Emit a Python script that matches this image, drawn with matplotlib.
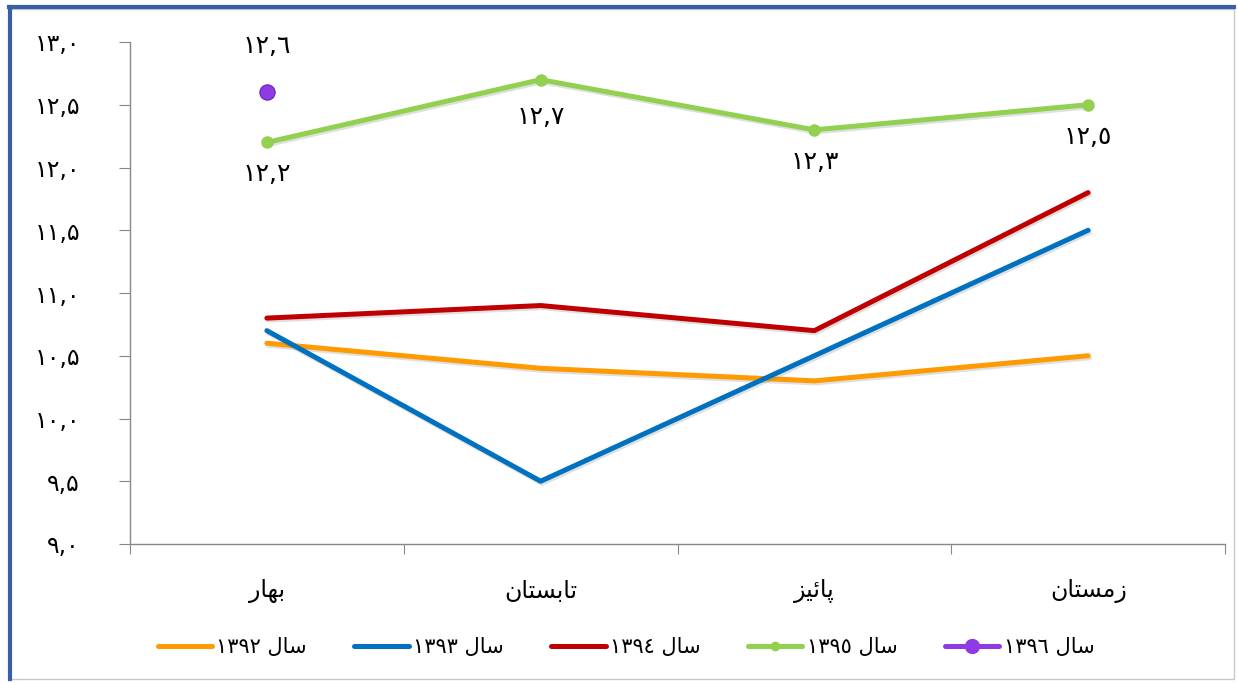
import matplotlib
matplotlib.use("Agg")
import matplotlib.pyplot as plt
import matplotlib.patheffects as pe
from matplotlib.patches import Rectangle
from matplotlib.lines import Line2D

# ---------------- data ----------------
seasons = ["بهار", "تابستان", "پائیز", "زمستان"]
years = ["1392", "1393", "1394", "1395", "1396"]
s1392 = [10.6, 10.4, 10.3, 10.5]
s1393 = [10.7, 9.5, 10.5, 11.5]
s1394 = [10.8, 10.9, 10.7, 11.8]
s1395 = [12.2, 12.7, 12.3, 12.5]
s1396 = [12.6]
y_ticks = [9.0, 9.5, 10.0, 10.5, 11.0, 11.5, 12.0, 12.5, 13.0]

colors = ["#FF9A00", "#0070C0", "#C00000", "#92D050", "#8E3BE6"]

# ------------- minimal Arabic shaping -------------
FORMS = {  # iso, fin, ini, med (None -> right-joining only)
    "ا": ("\uFE8D", "\uFE8E", None, None),
    "ب": ("\uFE8F", "\uFE90", "\uFE91", "\uFE92"),
    "ت": ("\uFE95", "\uFE96", "\uFE97", "\uFE98"),
    "ر": ("\uFEAD", "\uFEAE", None, None),
    "ز": ("\uFEAF", "\uFEB0", None, None),
    "س": ("\uFEB1", "\uFEB2", "\uFEB3", "\uFEB4"),
    "ل": ("\uFEDD", "\uFEDE", "\uFEDF", "\uFEE0"),
    "م": ("\uFEE1", "\uFEE2", "\uFEE3", "\uFEE4"),
    "ن": ("\uFEE5", "\uFEE6", "\uFEE7", "\uFEE8"),
    "ه": ("\uFEE9", "\uFEEA", "\uFEEB", "\uFEEC"),
    "ئ": ("\uFE89", "\uFE8A", "\uFE8B", "\uFE8C"),
    "ی": ("\uFEEF", "\uFEF0", "\uFEF3", "\uFEF4"),
    "پ": ("\uFB56", "\uFB57", "\uFB58", "\uFB59"),
}


def dual(c):
    return c in FORMS and FORMS[c][2] is not None


def shape_word(w):
    out = []
    for i, c in enumerate(w):
        if c not in FORMS:
            out.append(c)
            continue
        prev_j = i > 0 and dual(w[i - 1])
        next_j = dual(c) and i + 1 < len(w) and w[i + 1] in FORMS
        iso, fin, ini, med = FORMS[c]
        if prev_j and next_j:
            out.append(med)
        elif prev_j:
            out.append(fin)
        elif next_j:
            out.append(ini)
        else:
            out.append(iso)
    return "".join(out)[::-1]


FA = str.maketrans("0123456789.", "۰۱۲۳۴۵۶۷۸۹,")
AR = str.maketrans("0123456789.", "٠١٢٣٤٥٦٧٨٩,")


def fa_num(v):
    return f"{v:.1f}".translate(FA)


def ar_num(v):
    return f"{v:.1f}".translate(AR)


def legend_label(y):
    return y.translate(AR) + " " + shape_word("سال")


plt.rcParams["font.family"] = ["DejaVu Sans"]

fig = plt.figure(figsize=(12.38, 6.83), dpi=100)
ax = fig.add_axes([130 / 1238, 1 - 544 / 683, 1095 / 1238, 502 / 683])

x = list(range(len(seasons)))
shadow = [pe.SimpleLineShadow(offset=(1, -1.5), shadow_color="gray", alpha=0.25), pe.Normal()]

series = [s1392, s1393, s1394]
for vals, col in zip(series, colors[:3]):
    ax.plot(x, vals, color=col, lw=3.6, solid_capstyle="round", path_effects=shadow, zorder=3)

ax.plot(x, s1395, color=colors[3], lw=3.6, solid_capstyle="round", path_effects=shadow, zorder=4)
ax.plot(x, s1395, color=colors[3], marker="o", markersize=8, linestyle="none", zorder=4)
ax.plot(x[:len(s1396)], s1396, color=colors[4], marker="o", markersize=11,
        markeredgecolor="#6A1FC0", markeredgewidth=0.8, linestyle="none", zorder=5)

# data labels
for xi, v in zip(x, s1395):
    off = -27 if v == max(s1395) else -23
    ax.annotate(ar_num(v), (xi, v), xytext=(0, off), textcoords="offset points",
                ha="center", va="center", fontsize=18, color="black")
for xi, v in zip(x, s1396):
    ax.annotate(ar_num(v), (xi, v), xytext=(0, 33), textcoords="offset points",
                ha="center", va="center", fontsize=18, color="black")

ax.set_xlim(-0.5, len(seasons) - 0.5)
ax.set_ylim(9.0, 13.0)
ax.set_yticks(y_ticks)
ax.set_yticklabels([fa_num(v) for v in y_ticks], fontsize=17)
ax.set_xticks([i - 0.5 for i in range(len(seasons) + 1)])
ax.set_xticklabels([])
ax.set_xticks(x, minor=True)
ax.set_xticklabels([shape_word(s) for s in seasons], minor=True, fontsize=17)
ax.tick_params(axis="x", which="minor", length=0, pad=25)
ax.tick_params(axis="x", which="major", length=7, color="#888888", direction="out")
ax.tick_params(axis="y", length=8, color="#888888", pad=28)
for s in ["top", "right"]:
    ax.spines[s].set_visible(False)
for s in ["left", "bottom"]:
    ax.spines[s].set_color("#888888")
    ax.spines[s].set_linewidth(1.0)

# legend
handles = []
for i, col in enumerate(colors):
    if i == 3:
        h = Line2D([], [], color=col, lw=3.6, marker="o", markersize=6, solid_capstyle="round")
    elif i == 4:
        h = Line2D([], [], color=col, lw=3.6, marker="o", markersize=10, solid_capstyle="round")
    else:
        h = Line2D([], [], color=col, lw=3.6, solid_capstyle="round")
    handles.append(h)
fig.legend(handles, [legend_label(y) for y in years], loc="center",
           bbox_to_anchor=(626 / 1238, 1 - 647 / 683), ncol=5, frameon=False,
           fontsize=15, handlelength=2.6, handletextpad=0.2, columnspacing=2.3)

# frame
fig.patches.append(Rectangle((9 / 1238, 4 / 683), 1225 / 1238, 670 / 683,
                             transform=fig.transFigure, fill=False,
                             edgecolor="#C8C8C8", lw=1.0))
fig.lines.append(Line2D([9 / 1238, 1234 / 1238], [1 - 7 / 683, 1 - 7 / 683],
                        transform=fig.transFigure, color="#3A5FA8", lw=3))
fig.lines.append(Line2D([10 / 1238, 10 / 1238], [4 / 683, 1 - 7 / 683],
                        transform=fig.transFigure, color="#3A5FA8", lw=3))

fig.savefig("out.png", dpi=100)
